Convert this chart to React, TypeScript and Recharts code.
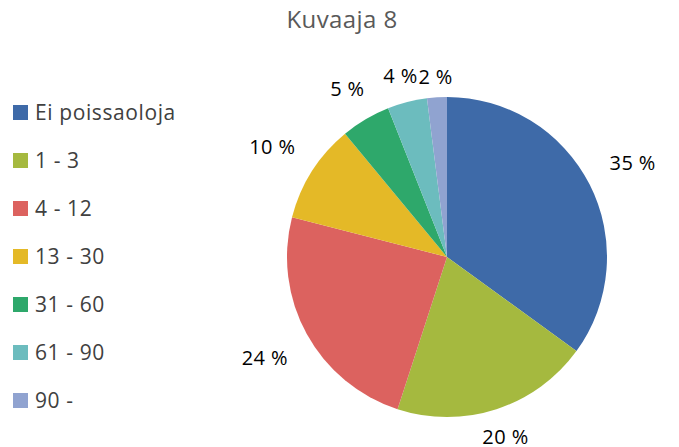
import React from "react";
import { PieChart, Pie, Cell } from "recharts";

const categories = ["Ei poissaoloja", "1 - 3", "4 - 12", "13 - 30", "31 - 60", "61 - 90", "90 -"];
const shares = [35, 20, 24, 10, 5, 4, 2];
const colors = ["#3e6aa8", "#a5b93f", "#dc625f", "#e4b927", "#2ea86b", "#6cbcbe", "#90a3d0"];

const data = categories.map((name, i) => ({ name, value: shares[i] }));

const RADIAN = Math.PI / 180;
const FONT = "'Open Sans', sans-serif";

// Excel-like outside labels: pushed further out on the sides
const renderLabel = (props: any) => {
  const { cx, cy, midAngle, outerRadius, value } = props;
  const side = Math.abs(Math.cos(midAngle * RADIAN));
  const r = outerRadius + 19 + 33 * side;
  const x = cx + r * Math.cos(-midAngle * RADIAN);
  const y = cy + r * Math.sin(-midAngle * RADIAN);
  return (
    <text
      x={x}
      y={y}
      fill="#000"
      textAnchor="middle"
      dominantBaseline="central"
      fontSize={20}
      letterSpacing={0.4}
      fontFamily={FONT}
    >
      {`${value} %`}
    </text>
  );
};

export default function App() {
  return (
    <div style={{ position: "absolute", left: 0, top: 0, width: 679, height: 447, background: "#fff" }}>
      <div
        style={{
          position: "absolute",
          left: 242,
          width: 200,
          top: 2,
          textAlign: "center",
          fontSize: 24,
          letterSpacing: 0.4,
          color: "#595959",
          fontFamily: FONT,
        }}
      >
        Kuvaaja 8
      </div>
      <div style={{ position: "absolute", left: 13, top: 88 }}>
        {categories.map((name, i) => (
          <div key={name} style={{ display: "flex", alignItems: "center", height: 48 }}>
            <span
              style={{
                width: 15,
                height: 15,
                background: colors[i],
                marginRight: 7,
                display: "inline-block",
              }}
            />
            <span style={{ fontSize: 21, letterSpacing: 0.6, color: "#404040", fontFamily: FONT }}>
              {name}
            </span>
          </div>
        ))}
      </div>
      <div style={{ position: "absolute", left: 0, top: 0 }}>
        <PieChart width={679} height={447} margin={{ top: 0, right: 0, bottom: 0, left: 0 }}>
          <Pie
            data={data}
            dataKey="value"
            nameKey="name"
            cx={447}
            cy={257}
            outerRadius={160}
            startAngle={90}
            endAngle={-270}
            stroke="none"
            label={renderLabel}
            labelLine={false}
            isAnimationActive={false}
          >
            {data.map((d, i) => (
              <Cell key={d.name} fill={colors[i]} />
            ))}
          </Pie>
        </PieChart>
      </div>
    </div>
  );
}
